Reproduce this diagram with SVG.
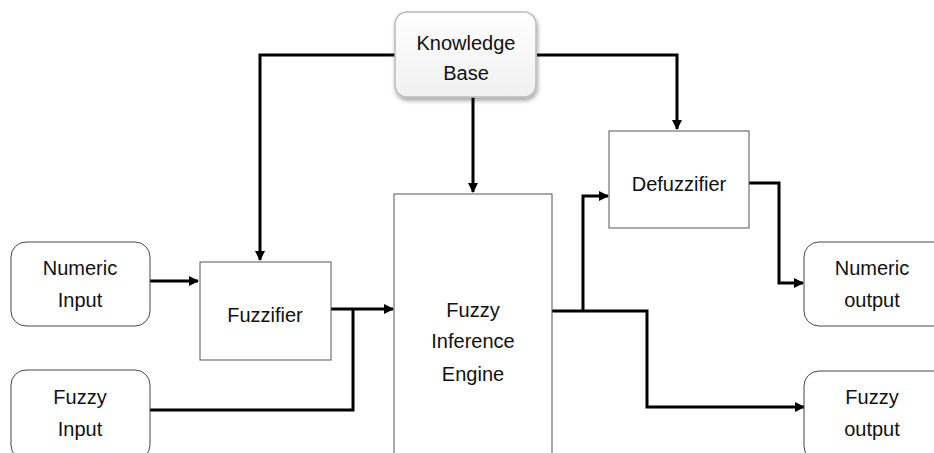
<svg xmlns="http://www.w3.org/2000/svg" width="934" height="453" viewBox="0 0 934 453">
<style>
.box{fill:#fff;stroke:#555;stroke-width:1}
.rbox{fill:#fff;stroke:#444;stroke-width:1}
.t{font-family:"Liberation Sans",Arial,sans-serif;font-size:20px;fill:#111;text-anchor:middle}
.c{fill:none;stroke:#000;stroke-width:3;stroke-linejoin:miter}
</style>
<defs>
<marker id="ah" markerWidth="10" markerHeight="10" refX="9" refY="5" orient="auto" markerUnits="userSpaceOnUse">
<path d="M0,0 L10,5 L0,10 Z" fill="#000"/>
</marker>
<linearGradient id="kg" x1="0" y1="0" x2="0" y2="1">
<stop offset="0" stop-color="#ffffff"/>
<stop offset="1" stop-color="#f0f0f0"/>
</linearGradient>
<filter id="sh" x="-10%" y="-10%" width="130%" height="130%">
<feDropShadow dx="1" dy="3" stdDeviation="2" flood-color="#000" flood-opacity="0.35"/>
</filter>
</defs>
<rect width="934" height="453" fill="#fff"/>
<g id="connectors">
<path class="c" d="M395,55 H260 V260" marker-end="url(#ah)"/>
<path class="c" d="M537,55 H677 V129" marker-end="url(#ah)"/>
<path class="c" d="M473,97 V192" marker-end="url(#ah)"/>
<path class="c" d="M150,281 H198" marker-end="url(#ah)"/>
<path class="c" d="M331,309 H393" marker-end="url(#ah)"/>
<path class="c" d="M150,410 H353 V309"/>
<path class="c" d="M552,311 H647 V407 H804" marker-end="url(#ah)"/>
<path class="c" d="M583,311 V196 H608" marker-end="url(#ah)"/>
<path class="c" d="M749,183 H779 V283 H803" marker-end="url(#ah)"/>
</g>
<g id="knowledge-base">
<rect x="395" y="12" width="141" height="85" rx="12" fill="url(#kg)" stroke="#bbb" stroke-width="1.5" filter="url(#sh)"/>
<text class="t" x="466" y="50">Knowledge</text>
<text class="t" x="466" y="80">Base</text>
</g>
<g id="numeric-input">
<rect class="rbox" x="11" y="242" width="139" height="84" rx="15"/>
<text class="t" x="80" y="275">Numeric</text>
<text class="t" x="80" y="307">Input</text>
</g>
<g id="fuzzy-input">
<rect class="rbox" x="11" y="370" width="139" height="90" rx="15"/>
<text class="t" x="80" y="404">Fuzzy</text>
<text class="t" x="80" y="436">Input</text>
</g>
<g id="fuzzifier">
<rect class="box" x="200" y="262" width="131" height="98"/>
<text class="t" x="265" y="322">Fuzzifier</text>
</g>
<g id="fuzzy-inference-engine">
<rect class="box" x="394" y="194" width="158" height="270"/>
<text class="t" x="473" y="317">Fuzzy</text>
<text class="t" x="473" y="348">Inference</text>
<text class="t" x="473" y="381">Engine</text>
</g>
<g id="defuzzifier">
<rect class="box" x="609" y="131" width="140" height="97"/>
<text class="t" x="679" y="191">Defuzzifier</text>
</g>
<g id="numeric-output">
<rect class="rbox" x="804" y="242" width="150" height="84" rx="15"/>
<text class="t" x="872" y="275">Numeric</text>
<text class="t" x="872" y="307">output</text>
</g>
<g id="fuzzy-output">
<rect class="rbox" x="804" y="371" width="150" height="90" rx="15"/>
<text class="t" x="872" y="404">Fuzzy</text>
<text class="t" x="872" y="436">output</text>
</g>
</svg>
